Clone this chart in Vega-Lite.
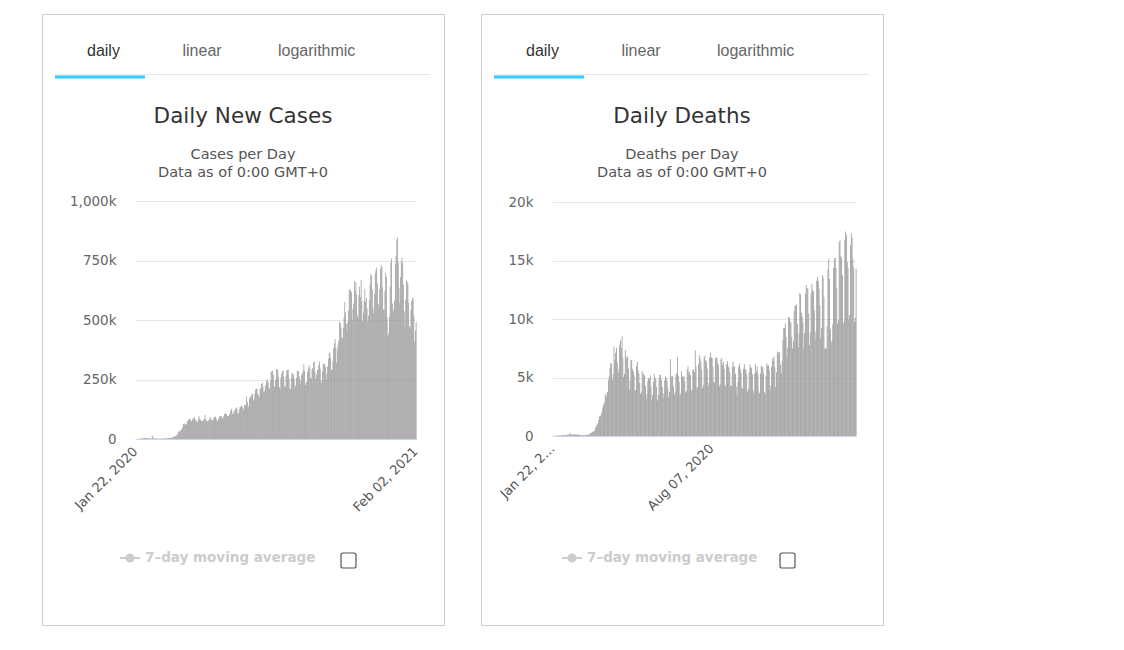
{
  "$schema": "https://vega.github.io/schema/vega-lite/v6.json",
  "background": "#ffffff",
  "padding": {"left": 41, "top": 13, "right": 0, "bottom": 0},
  "datasets": {
    "tabs": [
      {"tab": "daily", "active": true},
      {"tab": "linear", "active": false},
      {"tab": "logarithmic", "active": false}
    ],
    "daily": [
      {"date":"2020-01-22","cases":0,"deaths":0},
      {"date":"2020-01-23","cases":99,"deaths":8},
      {"date":"2020-01-24","cases":287,"deaths":16},
      {"date":"2020-01-25","cases":493,"deaths":15},
      {"date":"2020-01-26","cases":684,"deaths":24},
      {"date":"2020-01-27","cases":809,"deaths":26},
      {"date":"2020-01-28","cases":2651,"deaths":26},
      {"date":"2020-01-29","cases":589,"deaths":38},
      {"date":"2020-01-30","cases":2068,"deaths":43},
      {"date":"2020-01-31","cases":1692,"deaths":46},
      {"date":"2020-02-01","cases":2111,"deaths":45},
      {"date":"2020-02-02","cases":4749,"deaths":57},
      {"date":"2020-02-03","cases":3094,"deaths":64},
      {"date":"2020-02-04","cases":4011,"deaths":66},
      {"date":"2020-02-05","cases":3916,"deaths":73},
      {"date":"2020-02-06","cases":3721,"deaths":73},
      {"date":"2020-02-07","cases":3176,"deaths":86},
      {"date":"2020-02-08","cases":3432,"deaths":89},
      {"date":"2020-02-09","cases":2612,"deaths":97},
      {"date":"2020-02-10","cases":2997,"deaths":108},
      {"date":"2020-02-11","cases":2562,"deaths":97},
      {"date":"2020-02-12","cases":2071,"deaths":254},
      {"date":"2020-02-13","cases":15141,"deaths":121},
      {"date":"2020-02-14","cases":6526,"deaths":143},
      {"date":"2020-02-15","cases":2660,"deaths":142},
      {"date":"2020-02-16","cases":2138,"deaths":106},
      {"date":"2020-02-17","cases":2041,"deaths":98},
      {"date":"2020-02-18","cases":1893,"deaths":139},
      {"date":"2020-02-19","cases":555,"deaths":115},
      {"date":"2020-02-20","cases":1100,"deaths":125},
      {"date":"2020-02-21","cases":1013,"deaths":111},
      {"date":"2020-02-22","cases":1038,"deaths":98},
      {"date":"2020-02-23","cases":599,"deaths":150},
      {"date":"2020-02-24","cases":666,"deaths":71},
      {"date":"2020-02-25","cases":942,"deaths":64},
      {"date":"2020-02-26","cases":948,"deaths":38},
      {"date":"2020-02-27","cases":1329,"deaths":58},
      {"date":"2020-02-28","cases":1773,"deaths":67},
      {"date":"2020-02-29","cases":1851,"deaths":72},
      {"date":"2020-03-01","cases":2046,"deaths":70},
      {"date":"2020-03-02","cases":1824,"deaths":67},
      {"date":"2020-03-03","cases":2421,"deaths":82},
      {"date":"2020-03-04","cases":2291,"deaths":99},
      {"date":"2020-03-05","cases":2805,"deaths":97},
      {"date":"2020-03-06","cases":3981,"deaths":102},
      {"date":"2020-03-07","cases":4002,"deaths":106},
      {"date":"2020-03-08","cases":3781,"deaths":229},
      {"date":"2020-03-09","cases":4172,"deaths":206},
      {"date":"2020-03-10","cases":4650,"deaths":270},
      {"date":"2020-03-11","cases":7466,"deaths":330},
      {"date":"2020-03-12","cases":7621,"deaths":358},
      {"date":"2020-03-13","cases":10854,"deaths":437},
      {"date":"2020-03-14","cases":11000,"deaths":418},
      {"date":"2020-03-15","cases":11437,"deaths":695},
      {"date":"2020-03-16","cases":14396,"deaths":856},
      {"date":"2020-03-17","cases":16052,"deaths":1000},
      {"date":"2020-03-18","cases":19456,"deaths":1100},
      {"date":"2020-03-19","cases":28968,"deaths":1372},
      {"date":"2020-03-20","cases":32412,"deaths":1658},
      {"date":"2020-03-21","cases":32214,"deaths":1686},
      {"date":"2020-03-22","cases":34185,"deaths":1867},
      {"date":"2020-03-23","cases":41213,"deaths":2041},
      {"date":"2020-03-24","cases":42019,"deaths":2437},
      {"date":"2020-03-25","cases":49474,"deaths":2674},
      {"date":"2020-03-26","cases":62514,"deaths":2858},
      {"date":"2020-03-27","cases":64736,"deaths":3491},
      {"date":"2020-03-28","cases":64000,"deaths":3624},
      {"date":"2020-03-29","cases":58969,"deaths":3359},
      {"date":"2020-03-30","cases":62560,"deaths":3786},
      {"date":"2020-03-31","cases":74910,"deaths":4765},
      {"date":"2020-04-01","cases":76000,"deaths":5101},
      {"date":"2020-04-02","cases":81622,"deaths":5808},
      {"date":"2020-04-03","cases":84507,"deaths":6231},
      {"date":"2020-04-04","cases":84217,"deaths":6170},
      {"date":"2020-04-05","cases":73100,"deaths":4817},
      {"date":"2020-04-06","cases":75400,"deaths":5275},
      {"date":"2020-04-07","cases":82093,"deaths":7620},
      {"date":"2020-04-08","cases":86090,"deaths":6490},
      {"date":"2020-04-09","cases":87900,"deaths":7110},
      {"date":"2020-04-10","cases":93550,"deaths":7550},
      {"date":"2020-04-11","cases":81310,"deaths":6280},
      {"date":"2020-04-12","cases":77630,"deaths":5720},
      {"date":"2020-04-13","cases":70990,"deaths":5400},
      {"date":"2020-04-14","cases":72040,"deaths":7760},
      {"date":"2020-04-15","cases":82290,"deaths":8160},
      {"date":"2020-04-16","cases":96010,"deaths":7520},
      {"date":"2020-04-17","cases":87040,"deaths":8510},
      {"date":"2020-04-18","cases":80690,"deaths":6690},
      {"date":"2020-04-19","cases":76030,"deaths":5030},
      {"date":"2020-04-20","cases":73680,"deaths":5300},
      {"date":"2020-04-21","cases":74680,"deaths":7340},
      {"date":"2020-04-22","cases":80090,"deaths":6800},
      {"date":"2020-04-23","cases":83020,"deaths":6580},
      {"date":"2020-04-24","cases":100790,"deaths":6790},
      {"date":"2020-04-25","cases":85360,"deaths":5760},
      {"date":"2020-04-26","cases":75900,"deaths":3960},
      {"date":"2020-04-27","cases":73040,"deaths":4740},
      {"date":"2020-04-28","cases":76120,"deaths":6450},
      {"date":"2020-04-29","cases":77990,"deaths":6500},
      {"date":"2020-04-30","cases":86160,"deaths":5720},
      {"date":"2020-05-01","cases":93400,"deaths":5510},
      {"date":"2020-05-02","cases":85460,"deaths":5180},
      {"date":"2020-05-03","cases":79280,"deaths":3920},
      {"date":"2020-05-04","cases":78450,"deaths":3910},
      {"date":"2020-05-05","cases":81150,"deaths":6000},
      {"date":"2020-05-06","cases":91930,"deaths":6320},
      {"date":"2020-05-07","cases":90500,"deaths":5630},
      {"date":"2020-05-08","cases":94040,"deaths":5320},
      {"date":"2020-05-09","cases":87160,"deaths":4540},
      {"date":"2020-05-10","cases":77660,"deaths":3590},
      {"date":"2020-05-11","cases":75960,"deaths":3760},
      {"date":"2020-05-12","cases":84720,"deaths":5540},
      {"date":"2020-05-13","cases":86590,"deaths":5380},
      {"date":"2020-05-14","cases":96740,"deaths":5240},
      {"date":"2020-05-15","cases":97240,"deaths":5170},
      {"date":"2020-05-16","cases":95500,"deaths":4270},
      {"date":"2020-05-17","cases":84480,"deaths":3210},
      {"date":"2020-05-18","cases":89460,"deaths":3600},
      {"date":"2020-05-19","cases":94940,"deaths":4680},
      {"date":"2020-05-20","cases":104690,"deaths":4930},
      {"date":"2020-05-21","cases":107290,"deaths":4910},
      {"date":"2020-05-22","cases":107410,"deaths":5220},
      {"date":"2020-05-23","cases":104680,"deaths":4230},
      {"date":"2020-05-24","cases":96120,"deaths":3100},
      {"date":"2020-05-25","cases":92460,"deaths":3510},
      {"date":"2020-05-26","cases":97500,"deaths":4640},
      {"date":"2020-05-27","cases":104480,"deaths":5310},
      {"date":"2020-05-28","cases":116940,"deaths":4980},
      {"date":"2020-05-29","cases":122670,"deaths":4860},
      {"date":"2020-05-30","cases":126820,"deaths":4220},
      {"date":"2020-05-31","cases":107120,"deaths":3030},
      {"date":"2020-06-01","cases":103390,"deaths":3500},
      {"date":"2020-06-02","cases":115500,"deaths":4930},
      {"date":"2020-06-03","cases":120000,"deaths":5220},
      {"date":"2020-06-04","cases":128200,"deaths":5230},
      {"date":"2020-06-05","cases":132300,"deaths":4800},
      {"date":"2020-06-06","cases":126870,"deaths":4170},
      {"date":"2020-06-07","cases":107700,"deaths":3250},
      {"date":"2020-06-08","cases":107410,"deaths":3660},
      {"date":"2020-06-09","cases":121430,"deaths":4770},
      {"date":"2020-06-10","cases":135880,"deaths":5080},
      {"date":"2020-06-11","cases":135120,"deaths":4950},
      {"date":"2020-06-12","cases":141440,"deaths":4700},
      {"date":"2020-06-13","cases":134980,"deaths":4150},
      {"date":"2020-06-14","cases":129780,"deaths":3340},
      {"date":"2020-06-15","cases":121760,"deaths":3770},
      {"date":"2020-06-16","cases":143190,"deaths":6590},
      {"date":"2020-06-17","cases":142480,"deaths":5160},
      {"date":"2020-06-18","cases":140610,"deaths":5010},
      {"date":"2020-06-19","cases":178940,"deaths":5130},
      {"date":"2020-06-20","cases":155340,"deaths":4250},
      {"date":"2020-06-21","cases":131440,"deaths":3510},
      {"date":"2020-06-22","cases":139860,"deaths":3730},
      {"date":"2020-06-23","cases":170770,"deaths":5220},
      {"date":"2020-06-24","cases":175660,"deaths":5380},
      {"date":"2020-06-25","cases":181070,"deaths":6730},
      {"date":"2020-06-26","cases":191280,"deaths":5140},
      {"date":"2020-06-27","cases":188010,"deaths":4630},
      {"date":"2020-06-28","cases":162260,"deaths":3420},
      {"date":"2020-06-29","cases":167640,"deaths":3640},
      {"date":"2020-06-30","cases":189020,"deaths":5540},
      {"date":"2020-07-01","cases":208360,"deaths":5080},
      {"date":"2020-07-02","cases":211560,"deaths":5020},
      {"date":"2020-07-03","cases":212050,"deaths":5130},
      {"date":"2020-07-04","cases":191640,"deaths":4710},
      {"date":"2020-07-05","cases":183120,"deaths":3720},
      {"date":"2020-07-06","cases":176320,"deaths":3860},
      {"date":"2020-07-07","cases":210940,"deaths":5710},
      {"date":"2020-07-08","cases":214630,"deaths":5940},
      {"date":"2020-07-09","cases":231460,"deaths":5380},
      {"date":"2020-07-10","cases":237620,"deaths":5510},
      {"date":"2020-07-11","cases":221060,"deaths":5210},
      {"date":"2020-07-12","cases":198660,"deaths":3840},
      {"date":"2020-07-13","cases":200860,"deaths":3970},
      {"date":"2020-07-14","cases":220190,"deaths":5600},
      {"date":"2020-07-15","cases":228380,"deaths":5700},
      {"date":"2020-07-16","cases":245610,"deaths":5480},
      {"date":"2020-07-17","cases":249340,"deaths":7310},
      {"date":"2020-07-18","cases":238420,"deaths":5940},
      {"date":"2020-07-19","cases":214900,"deaths":4090},
      {"date":"2020-07-20","cases":210820,"deaths":4200},
      {"date":"2020-07-21","cases":243520,"deaths":6110},
      {"date":"2020-07-22","cases":283090,"deaths":6930},
      {"date":"2020-07-23","cases":282040,"deaths":6640},
      {"date":"2020-07-24","cases":286670,"deaths":6350},
      {"date":"2020-07-25","cases":268400,"deaths":5710},
      {"date":"2020-07-26","cases":218360,"deaths":4110},
      {"date":"2020-07-27","cases":222050,"deaths":4370},
      {"date":"2020-07-28","cases":249590,"deaths":6700},
      {"date":"2020-07-29","cases":293110,"deaths":6860},
      {"date":"2020-07-30","cases":292460,"deaths":6480},
      {"date":"2020-07-31","cases":290960,"deaths":6350},
      {"date":"2020-08-01","cases":260120,"deaths":5750},
      {"date":"2020-08-02","cases":217460,"deaths":4240},
      {"date":"2020-08-03","cases":209210,"deaths":4530},
      {"date":"2020-08-04","cases":257190,"deaths":6700},
      {"date":"2020-08-05","cases":275550,"deaths":7120},
      {"date":"2020-08-06","cases":285600,"deaths":6730},
      {"date":"2020-08-07","cases":288020,"deaths":6660},
      {"date":"2020-08-08","cases":262340,"deaths":5900},
      {"date":"2020-08-09","cases":223870,"deaths":4650},
      {"date":"2020-08-10","cases":219540,"deaths":4560},
      {"date":"2020-08-11","cases":263680,"deaths":6670},
      {"date":"2020-08-12","cases":288090,"deaths":6700},
      {"date":"2020-08-13","cases":290390,"deaths":6680},
      {"date":"2020-08-14","cases":291940,"deaths":6230},
      {"date":"2020-08-15","cases":255370,"deaths":6050},
      {"date":"2020-08-16","cases":214470,"deaths":4250},
      {"date":"2020-08-17","cases":209430,"deaths":4430},
      {"date":"2020-08-18","cases":256050,"deaths":6550},
      {"date":"2020-08-19","cases":276280,"deaths":6640},
      {"date":"2020-08-20","cases":277650,"deaths":6080},
      {"date":"2020-08-21","cases":269490,"deaths":6310},
      {"date":"2020-08-22","cases":255760,"deaths":5720},
      {"date":"2020-08-23","cases":214050,"deaths":4360},
      {"date":"2020-08-24","cases":225230,"deaths":4240},
      {"date":"2020-08-25","cases":256240,"deaths":6140},
      {"date":"2020-08-26","cases":287840,"deaths":6410},
      {"date":"2020-08-27","cases":283760,"deaths":5970},
      {"date":"2020-08-28","cases":284480,"deaths":5830},
      {"date":"2020-08-29","cases":262080,"deaths":5430},
      {"date":"2020-08-30","cases":228630,"deaths":4270},
      {"date":"2020-08-31","cases":246810,"deaths":4300},
      {"date":"2020-09-01","cases":268870,"deaths":5920},
      {"date":"2020-09-02","cases":276360,"deaths":6360},
      {"date":"2020-09-03","cases":289270,"deaths":5890},
      {"date":"2020-09-04","cases":313870,"deaths":5950},
      {"date":"2020-09-05","cases":286880,"deaths":5330},
      {"date":"2020-09-06","cases":226770,"deaths":4220},
      {"date":"2020-09-07","cases":237300,"deaths":3490},
      {"date":"2020-09-08","cases":239490,"deaths":4640},
      {"date":"2020-09-09","cases":281230,"deaths":5910},
      {"date":"2020-09-10","cases":294330,"deaths":6170},
      {"date":"2020-09-11","cases":309690,"deaths":5750},
      {"date":"2020-09-12","cases":298220,"deaths":5380},
      {"date":"2020-09-13","cases":256850,"deaths":4130},
      {"date":"2020-09-14","cases":255430,"deaths":4050},
      {"date":"2020-09-15","cases":293020,"deaths":5740},
      {"date":"2020-09-16","cases":298160,"deaths":6150},
      {"date":"2020-09-17","cases":322700,"deaths":5730},
      {"date":"2020-09-18","cases":325500,"deaths":5670},
      {"date":"2020-09-19","cases":280440,"deaths":5270},
      {"date":"2020-09-20","cases":253110,"deaths":3800},
      {"date":"2020-09-21","cases":269030,"deaths":4010},
      {"date":"2020-09-22","cases":290430,"deaths":5450},
      {"date":"2020-09-23","cases":289700,"deaths":6090},
      {"date":"2020-09-24","cases":310560,"deaths":5870},
      {"date":"2020-09-25","cases":325560,"deaths":5840},
      {"date":"2020-09-26","cases":294790,"deaths":5270},
      {"date":"2020-09-27","cases":246030,"deaths":3900},
      {"date":"2020-09-28","cases":236280,"deaths":3690},
      {"date":"2020-09-29","cases":283910,"deaths":5350},
      {"date":"2020-09-30","cases":317190,"deaths":6140},
      {"date":"2020-10-01","cases":310400,"deaths":5470},
      {"date":"2020-10-02","cases":314690,"deaths":5930},
      {"date":"2020-10-03","cases":302810,"deaths":5290},
      {"date":"2020-10-04","cases":251320,"deaths":3810},
      {"date":"2020-10-05","cases":275880,"deaths":3640},
      {"date":"2020-10-06","cases":304270,"deaths":5310},
      {"date":"2020-10-07","cases":336120,"deaths":6030},
      {"date":"2020-10-08","cases":358840,"deaths":5870},
      {"date":"2020-10-09","cases":364430,"deaths":5920},
      {"date":"2020-10-10","cases":341420,"deaths":5360},
      {"date":"2020-10-11","cases":291290,"deaths":3780},
      {"date":"2020-10-12","cases":290120,"deaths":3580},
      {"date":"2020-10-13","cases":325780,"deaths":5180},
      {"date":"2020-10-14","cases":380120,"deaths":6220},
      {"date":"2020-10-15","cases":403410,"deaths":6030},
      {"date":"2020-10-16","cases":420370,"deaths":6040},
      {"date":"2020-10-17","cases":384660,"deaths":5620},
      {"date":"2020-10-18","cases":319720,"deaths":3960},
      {"date":"2020-10-19","cases":375660,"deaths":4340},
      {"date":"2020-10-20","cases":396840,"deaths":5920},
      {"date":"2020-10-21","cases":413240,"deaths":6620},
      {"date":"2020-10-22","cases":493220,"deaths":6400},
      {"date":"2020-10-23","cases":486870,"deaths":6800},
      {"date":"2020-10-24","cases":468900,"deaths":5850},
      {"date":"2020-10-25","cases":424830,"deaths":4180},
      {"date":"2020-10-26","cases":425670,"deaths":5450},
      {"date":"2020-10-27","cases":466340,"deaths":7220},
      {"date":"2020-10-28","cases":510830,"deaths":7030},
      {"date":"2020-10-29","cases":575930,"deaths":7170},
      {"date":"2020-10-30","cases":532920,"deaths":7150},
      {"date":"2020-10-31","cases":484910,"deaths":6090},
      {"date":"2020-11-01","cases":456140,"deaths":5350},
      {"date":"2020-11-02","cases":489820,"deaths":6400},
      {"date":"2020-11-03","cases":539440,"deaths":8210},
      {"date":"2020-11-04","cases":629320,"deaths":9250},
      {"date":"2020-11-05","cases":622160,"deaths":9240},
      {"date":"2020-11-06","cases":627000,"deaths":9620},
      {"date":"2020-11-07","cases":616950,"deaths":8430},
      {"date":"2020-11-08","cases":501200,"deaths":6710},
      {"date":"2020-11-09","cases":546350,"deaths":7560},
      {"date":"2020-11-10","cases":569710,"deaths":10170},
      {"date":"2020-11-11","cases":665040,"deaths":10130},
      {"date":"2020-11-12","cases":625120,"deaths":9810},
      {"date":"2020-11-13","cases":657570,"deaths":9660},
      {"date":"2020-11-14","cases":608340,"deaths":8460},
      {"date":"2020-11-15","cases":519240,"deaths":7480},
      {"date":"2020-11-16","cases":506620,"deaths":8100},
      {"date":"2020-11-17","cases":604640,"deaths":10660},
      {"date":"2020-11-18","cases":640510,"deaths":11140},
      {"date":"2020-11-19","cases":596970,"deaths":11170},
      {"date":"2020-11-20","cases":668930,"deaths":11230},
      {"date":"2020-11-21","cases":580340,"deaths":9590},
      {"date":"2020-11-22","cases":495420,"deaths":7600},
      {"date":"2020-11-23","cases":530470,"deaths":8800},
      {"date":"2020-11-24","cases":578890,"deaths":12220},
      {"date":"2020-11-25","cases":631720,"deaths":12100},
      {"date":"2020-11-26","cases":577610,"deaths":10560},
      {"date":"2020-11-27","cases":592660,"deaths":10190},
      {"date":"2020-11-28","cases":548190,"deaths":9690},
      {"date":"2020-11-29","cases":492990,"deaths":7460},
      {"date":"2020-11-30","cases":517610,"deaths":8800},
      {"date":"2020-12-01","cases":583630,"deaths":12150},
      {"date":"2020-12-02","cases":648540,"deaths":12910},
      {"date":"2020-12-03","cases":692550,"deaths":12610},
      {"date":"2020-12-04","cases":687420,"deaths":12620},
      {"date":"2020-12-05","cases":630540,"deaths":10460},
      {"date":"2020-12-06","cases":548260,"deaths":7760},
      {"date":"2020-12-07","cases":528020,"deaths":8830},
      {"date":"2020-12-08","cases":609350,"deaths":12150},
      {"date":"2020-12-09","cases":696900,"deaths":13010},
      {"date":"2020-12-10","cases":710630,"deaths":12500},
      {"date":"2020-12-11","cases":720510,"deaths":12340},
      {"date":"2020-12-12","cases":651810,"deaths":10750},
      {"date":"2020-12-13","cases":567540,"deaths":8260},
      {"date":"2020-12-14","cases":554930,"deaths":8930},
      {"date":"2020-12-15","cases":628680,"deaths":13260},
      {"date":"2020-12-16","cases":714280,"deaths":13630},
      {"date":"2020-12-17","cases":732140,"deaths":13200},
      {"date":"2020-12-18","cases":723830,"deaths":12590},
      {"date":"2020-12-19","cases":636230,"deaths":11160},
      {"date":"2020-12-20","cases":543800,"deaths":8380},
      {"date":"2020-12-21","cases":540940,"deaths":9250},
      {"date":"2020-12-22","cases":621520,"deaths":13760},
      {"date":"2020-12-23","cases":698150,"deaths":13540},
      {"date":"2020-12-24","cases":681490,"deaths":11850},
      {"date":"2020-12-25","cases":510640,"deaths":7430},
      {"date":"2020-12-26","cases":433610,"deaths":7540},
      {"date":"2020-12-27","cases":442780,"deaths":7420},
      {"date":"2020-12-28","cases":513690,"deaths":9370},
      {"date":"2020-12-29","cases":639340,"deaths":14300},
      {"date":"2020-12-30","cases":742640,"deaths":15150},
      {"date":"2020-12-31","cases":758490,"deaths":13420},
      {"date":"2021-01-01","cases":569210,"deaths":9120},
      {"date":"2021-01-02","cases":533830,"deaths":7960},
      {"date":"2021-01-03","cases":547740,"deaths":8140},
      {"date":"2021-01-04","cases":580590,"deaths":9530},
      {"date":"2021-01-05","cases":734700,"deaths":14350},
      {"date":"2021-01-06","cases":769470,"deaths":15170},
      {"date":"2021-01-07","cases":838630,"deaths":15210},
      {"date":"2021-01-08","cases":845220,"deaths":14370},
      {"date":"2021-01-09","cases":742010,"deaths":12680},
      {"date":"2021-01-10","cases":636200,"deaths":9580},
      {"date":"2021-01-11","cases":572780,"deaths":9910},
      {"date":"2021-01-12","cases":680910,"deaths":16580},
      {"date":"2021-01-13","cases":747230,"deaths":16740},
      {"date":"2021-01-14","cases":762430,"deaths":15360},
      {"date":"2021-01-15","cases":737200,"deaths":15210},
      {"date":"2021-01-16","cases":648700,"deaths":13750},
      {"date":"2021-01-17","cases":536580,"deaths":9600},
      {"date":"2021-01-18","cases":474010,"deaths":9760},
      {"date":"2021-01-19","cases":585490,"deaths":16730},
      {"date":"2021-01-20","cases":666540,"deaths":17480},
      {"date":"2021-01-21","cases":660780,"deaths":17200},
      {"date":"2021-01-22","cases":649250,"deaths":14870},
      {"date":"2021-01-23","cases":572140,"deaths":14360},
      {"date":"2021-01-24","cases":473740,"deaths":9920},
      {"date":"2021-01-25","cases":466190,"deaths":10350},
      {"date":"2021-01-26","cases":542340,"deaths":16330},
      {"date":"2021-01-27","cases":578790,"deaths":17300},
      {"date":"2021-01-28","cases":594300,"deaths":16960},
      {"date":"2021-01-29","cases":590370,"deaths":15150},
      {"date":"2021-01-30","cases":519410,"deaths":14420},
      {"date":"2021-01-31","cases":407060,"deaths":9770},
      {"date":"2021-02-01","cases":454700,"deaths":10130},
      {"date":"2021-02-02","cases":491680,"deaths":14300}
    ]
  },
  "spacing": 35,
  "resolve": {
    "scale": {"x": "independent", "y": "independent", "color": "independent", "shape": "independent"},
    "legend": {"color": "independent", "shape": "independent"}
  },
  "hconcat": [
    {
      "width": 402,
      "height": 611,
      "title": {"text": "Daily New Cases", "subtitle": ["Cases per Day", "Data as of 0:00 GMT+0"]},
      "resolve": {"scale": {"x": "independent", "y": "independent"}},
      "layer": [
        {
          "data": {"name": "tabs"},
          "mark": {"type": "rect", "color": "#e6e6e6"},
          "encoding": {
            "x": {"field": "tab", "type": "nominal", "scale": {"type": "band", "domain": ["daily", "linear", "logarithmic"], "range": [13, 388], "paddingInner": 0, "paddingOuter": 0}, "axis": null},
            "y": {"datum": "strip", "type": "nominal", "scale": {"type": "band", "range": [60, 61], "paddingInner": 0, "paddingOuter": 0}, "axis": null}
          }
        },
        {
          "data": {"name": "tabs"},
          "transform": [{"filter": "datum.active"}],
          "mark": {"type": "rect", "color": "#33ccff"},
          "encoding": {
            "x": {"field": "tab", "type": "nominal", "scale": {"type": "band", "domain": ["daily"], "range": [13, 103], "paddingInner": 0, "paddingOuter": 0}, "axis": null},
            "y": {"datum": "underline", "type": "nominal", "scale": {"type": "band", "range": [61.5, 64.5], "paddingInner": 0, "paddingOuter": 0}, "axis": null}
          }
        },
        {
          "data": {"name": "tabs"},
          "mark": {"type": "text", "align": "left", "baseline": "middle", "font": "Liberation Sans", "fontSize": 16},
          "encoding": {
            "x": {"field": "tab", "type": "nominal", "scale": {"type": "point", "domain": ["daily", "linear", "logarithmic"], "range": [45, 236], "padding": 0}, "axis": null},
            "y": {"datum": "label", "type": "nominal", "scale": {"type": "point", "range": [37, 37]}, "axis": null},
            "text": {"field": "tab"},
            "color": {"condition": {"test": "datum.active", "value": "#333333"}, "value": "#666666"}
          }
        },
        {
          "data": {"name": "daily"},
          "mark": {"type": "bar", "color": "#9b9b9b", "binSpacing": 0},
          "encoding": {
            "x": {
              "field": "date", "type": "temporal", "timeUnit": "utcyearmonthdate",
              "scale": {"domain": [{"year": 2020, "month": 1, "date": 22, "utc": true}, {"year": 2021, "month": 2, "date": 3, "utc": true}], "range": [93, 374]},
              "axis": {
                "orient": "bottom", "offset": -186, "title": null, "grid": false, "ticks": false,
                "values": [{"year": 2020, "month": 1, "date": 22, "utc": true}, {"year": 2021, "month": 2, "date": 2, "utc": true}],
                "labelExpr": "utcFormat(datum.value, '%b %d, %Y')",
                "domainColor": "#ccd6eb", "labelAngle": -45, "labelAlign": "right", "labelBaseline": "middle", "labelPadding": 10,
                "labelFont": "DejaVu Sans", "labelFontSize": 13, "labelColor": "#555555", "labelOverlap": false, "labelFlush": false
              }
            },
            "y": {
              "field": "cases", "type": "quantitative",
              "scale": {"domain": [0, 1000000], "range": [425, 187], "nice": false},
              "axis": {
                "orient": "left", "offset": -93, "title": null, "domain": false, "ticks": false, "grid": true, "gridColor": "#e6e6e6",
                "values": [0, 250000, 500000, 750000, 1000000],
                "labelExpr": "datum.value === 0 ? '0' : format(datum.value / 1000, ',') + 'k'",
                "labelPadding": 19, "labelFont": "DejaVu Sans", "labelFontSize": 13.5, "labelColor": "#666666"
              }
            }
          }
        },
        {
          "data": {"values": []},
          "mark": {"type": "point", "filled": false, "opacity": 1, "strokeWidth": 2, "size": 400,
                   "shape": "M-1,0H1M-0.35,0A0.35,0.35 0 1,0 0.35,0A0.35,0.35 0 1,0 -0.35,0M-0.2,0A0.2,0.2 0 1,0 0.2,0A0.2,0.2 0 1,0 -0.2,0M-0.08,0A0.08,0.08 0 1,0 0.08,0A0.08,0.08 0 1,0 -0.08,0"},
          "encoding": {
            "color": {
              "datum": "7–day moving average", "type": "nominal",
              "scale": {"domain": ["7–day moving average"], "range": ["#cccccc"]},
              "legend": {
                "orient": "none", "legendX": 77, "legendY": 533, "title": null, "padding": 0,
                "symbolType": "M-1,0H1M-0.35,0A0.35,0.35 0 1,0 0.35,0A0.35,0.35 0 1,0 -0.35,0M-0.2,0A0.2,0.2 0 1,0 0.2,0A0.2,0.2 0 1,0 -0.2,0M-0.08,0A0.08,0.08 0 1,0 0.08,0A0.08,0.08 0 1,0 -0.08,0",
                "symbolSize": 400, "symbolStrokeWidth": 2, "symbolStrokeColor": "#cccccc", "labelOffset": 4, "labelLimit": 300,
                "labelFont": "DejaVu Sans", "labelFontSize": 13.5, "labelFontWeight": "bold", "labelColor": "#cccccc"
              }
            }
          }
        },
        {
          "data": {"values": []},
          "mark": {"type": "point", "filled": false, "color": "#555555", "opacity": 1, "strokeWidth": 1.2},
          "encoding": {
            "shape": {
              "datum": "toggle", "type": "nominal",
              "scale": {"domain": ["toggle"], "range": ["M-0.72,-1H0.72A0.28,0.28 0 0 1 1,-0.72V0.72A0.28,0.28 0 0 1 0.72,1H-0.72A0.28,0.28 0 0 1 -1,0.72V-0.72A0.28,0.28 0 0 1 -0.72,-1Z"]},
              "legend": {
                "orient": "none", "legendX": 298, "legendY": 538, "title": null, "padding": 0, "symbolSize": 225,
                "symbolStrokeColor": "#555555", "symbolStrokeWidth": 1.2,
                "labelExpr": "''"
              }
            }
          }
        }
      ]
    },
    {
      "width": 402,
      "height": 611,
      "title": {"text": "Daily Deaths", "subtitle": ["Deaths per Day", "Data as of 0:00 GMT+0"]},
      "resolve": {"scale": {"x": "independent", "y": "independent"}},
      "layer": [
        {
          "data": {"name": "tabs"},
          "mark": {"type": "rect", "color": "#e6e6e6"},
          "encoding": {
            "x": {"field": "tab", "type": "nominal", "scale": {"type": "band", "domain": ["daily", "linear", "logarithmic"], "range": [13, 388], "paddingInner": 0, "paddingOuter": 0}, "axis": null},
            "y": {"datum": "strip", "type": "nominal", "scale": {"type": "band", "range": [60, 61], "paddingInner": 0, "paddingOuter": 0}, "axis": null}
          }
        },
        {
          "data": {"name": "tabs"},
          "transform": [{"filter": "datum.active"}],
          "mark": {"type": "rect", "color": "#33ccff"},
          "encoding": {
            "x": {"field": "tab", "type": "nominal", "scale": {"type": "band", "domain": ["daily"], "range": [13, 103], "paddingInner": 0, "paddingOuter": 0}, "axis": null},
            "y": {"datum": "underline", "type": "nominal", "scale": {"type": "band", "range": [61.5, 64.5], "paddingInner": 0, "paddingOuter": 0}, "axis": null}
          }
        },
        {
          "data": {"name": "tabs"},
          "mark": {"type": "text", "align": "left", "baseline": "middle", "font": "Liberation Sans", "fontSize": 16},
          "encoding": {
            "x": {"field": "tab", "type": "nominal", "scale": {"type": "point", "domain": ["daily", "linear", "logarithmic"], "range": [45, 236], "padding": 0}, "axis": null},
            "y": {"datum": "label", "type": "nominal", "scale": {"type": "point", "range": [37, 37]}, "axis": null},
            "text": {"field": "tab"},
            "color": {"condition": {"test": "datum.active", "value": "#333333"}, "value": "#666666"}
          }
        },
        {
          "data": {"name": "daily"},
          "mark": {"type": "bar", "color": "#9b9b9b", "binSpacing": 0},
          "encoding": {
            "x": {
              "field": "date", "type": "temporal", "timeUnit": "utcyearmonthdate",
              "scale": {"domain": [{"year": 2020, "month": 1, "date": 22, "utc": true}, {"year": 2021, "month": 2, "date": 3, "utc": true}], "range": [71, 375]},
              "axis": {
                "orient": "bottom", "offset": -189, "title": null, "grid": false, "ticks": false,
                "values": [{"year": 2020, "month": 1, "date": 22, "utc": true}, {"year": 2020, "month": 8, "date": 7, "utc": true}],
                "labelExpr": "datum.index === 0 ? 'Jan 22, 2…' : utcFormat(datum.value, '%b %d, %Y')",
                "domainColor": "#ccd6eb", "labelAngle": -45, "labelAlign": "right", "labelBaseline": "middle", "labelPadding": 10,
                "labelFont": "DejaVu Sans", "labelFontSize": 13, "labelColor": "#555555", "labelOverlap": false, "labelFlush": false
              }
            },
            "y": {
              "field": "deaths", "type": "quantitative",
              "scale": {"domain": [0, 20000], "range": [422, 188], "nice": false},
              "axis": {
                "orient": "left", "offset": -71, "title": null, "domain": false, "ticks": false, "grid": true, "gridColor": "#e6e6e6",
                "values": [0, 5000, 10000, 15000, 20000],
                "labelExpr": "datum.value === 0 ? '0' : format(datum.value / 1000, ',') + 'k'",
                "labelPadding": 19, "labelFont": "DejaVu Sans", "labelFontSize": 13.5, "labelColor": "#666666"
              }
            }
          }
        },
        {
          "data": {"values": []},
          "mark": {"type": "point", "filled": false, "opacity": 1, "strokeWidth": 2, "size": 400,
                   "shape": "M-1,0H1M-0.35,0A0.35,0.35 0 1,0 0.35,0A0.35,0.35 0 1,0 -0.35,0M-0.2,0A0.2,0.2 0 1,0 0.2,0A0.2,0.2 0 1,0 -0.2,0M-0.08,0A0.08,0.08 0 1,0 0.08,0A0.08,0.08 0 1,0 -0.08,0"},
          "encoding": {
            "color": {
              "datum": "7–day moving average", "type": "nominal",
              "scale": {"domain": ["7–day moving average"], "range": ["#cccccc"]},
              "legend": {
                "orient": "none", "legendX": 80, "legendY": 533, "title": null, "padding": 0,
                "symbolType": "M-1,0H1M-0.35,0A0.35,0.35 0 1,0 0.35,0A0.35,0.35 0 1,0 -0.35,0M-0.2,0A0.2,0.2 0 1,0 0.2,0A0.2,0.2 0 1,0 -0.2,0M-0.08,0A0.08,0.08 0 1,0 0.08,0A0.08,0.08 0 1,0 -0.08,0",
                "symbolSize": 400, "symbolStrokeWidth": 2, "symbolStrokeColor": "#cccccc", "labelOffset": 4, "labelLimit": 300,
                "labelFont": "DejaVu Sans", "labelFontSize": 13.5, "labelFontWeight": "bold", "labelColor": "#cccccc"
              }
            }
          }
        },
        {
          "data": {"values": []},
          "mark": {"type": "point", "filled": false, "color": "#555555", "opacity": 1, "strokeWidth": 1.2},
          "encoding": {
            "shape": {
              "datum": "toggle", "type": "nominal",
              "scale": {"domain": ["toggle"], "range": ["M-0.72,-1H0.72A0.28,0.28 0 0 1 1,-0.72V0.72A0.28,0.28 0 0 1 0.72,1H-0.72A0.28,0.28 0 0 1 -1,0.72V-0.72A0.28,0.28 0 0 1 -0.72,-1Z"]},
              "legend": {
                "orient": "none", "legendX": 298, "legendY": 538, "title": null, "padding": 0, "symbolSize": 225,
                "symbolStrokeColor": "#555555", "symbolStrokeWidth": 1.2,
                "labelExpr": "''"
              }
            }
          }
        }
      ]
    }
  ],
  "config": {
    "view": {"stroke": "#cccccc", "strokeWidth": 1},
    "title": {
      "anchor": "middle", "frame": "group", "offset": -165,
      "font": "DejaVu Sans", "fontSize": 21.5, "fontWeight": "normal", "color": "#333333",
      "subtitleFont": "DejaVu Sans", "subtitleFontSize": 14.5, "subtitleColor": "#555555",
      "subtitlePadding": 20, "subtitleLineHeight": 18
    }
  }
}
